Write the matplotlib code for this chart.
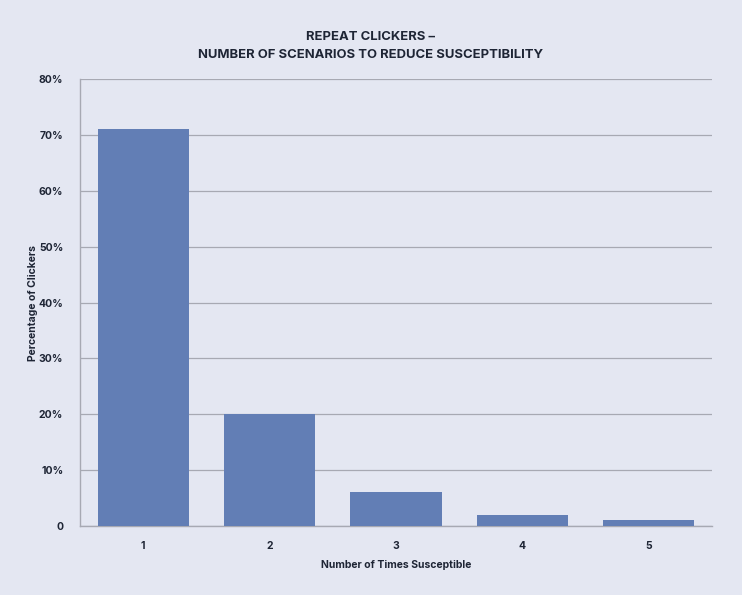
import matplotlib.pyplot as plt
from matplotlib.ticker import FuncFormatter

times = [1, 2, 3, 4, 5]
pct = [71, 20, 6, 2, 1]
yticks = [0, 10, 20, 30, 40, 50, 60, 70, 80]

plt.rcParams['font.family'] = ['Inter', 'DejaVu Sans']

bg = '#e4e7f2'
txt = '#1e2535'

fig = plt.figure(figsize=(7.42, 5.95), dpi=100, facecolor=bg)
ax = fig.add_axes([0.1078, 0.116, 0.8518, 0.751], facecolor=bg)

ax.bar(times, pct, width=0.72, color='#627eb5', zorder=3)

ax.set_xlim(0.5, 5.5)
ax.set_ylim(0, 80)
ax.set_yticks(yticks)
ax.yaxis.set_major_formatter(FuncFormatter(lambda v, p: '0' if v == 0 else f'{v:.0f}%'))
ax.set_xticks(times)
ax.grid(axis='y', color='#a7a9b3', linewidth=0.9, zorder=0)

for s in ['top', 'right']:
    ax.spines[s].set_visible(False)
for s in ['left', 'bottom']:
    ax.spines[s].set_color('#a7a9b3')
    ax.spines[s].set_linewidth(1.0)

ax.tick_params(axis='both', length=0, labelsize=7.5, labelcolor=txt)
ax.tick_params(axis='x', pad=11)
ax.tick_params(axis='y', pad=12)
for lab in ax.get_xticklabels() + ax.get_yticklabels():
    lab.set_fontweight('bold')

ax.set_xlabel('Number of Times Susceptible', fontsize=7.5, fontweight='bold', color=txt, labelpad=6)
ax.set_ylabel('Percentage of Clickers', fontsize=7.5, fontweight='bold', color=txt, labelpad=0)

fig.text(0.5, 0.923, 'REPEAT CLICKERS –\nNUMBER OF SCENARIOS TO REDUCE SUSCEPTIBILITY',
         ha='center', va='center', fontsize=9.4, fontweight='bold', color=txt, linespacing=1.6)

fig.savefig('out.png', dpi=100, facecolor=bg)
